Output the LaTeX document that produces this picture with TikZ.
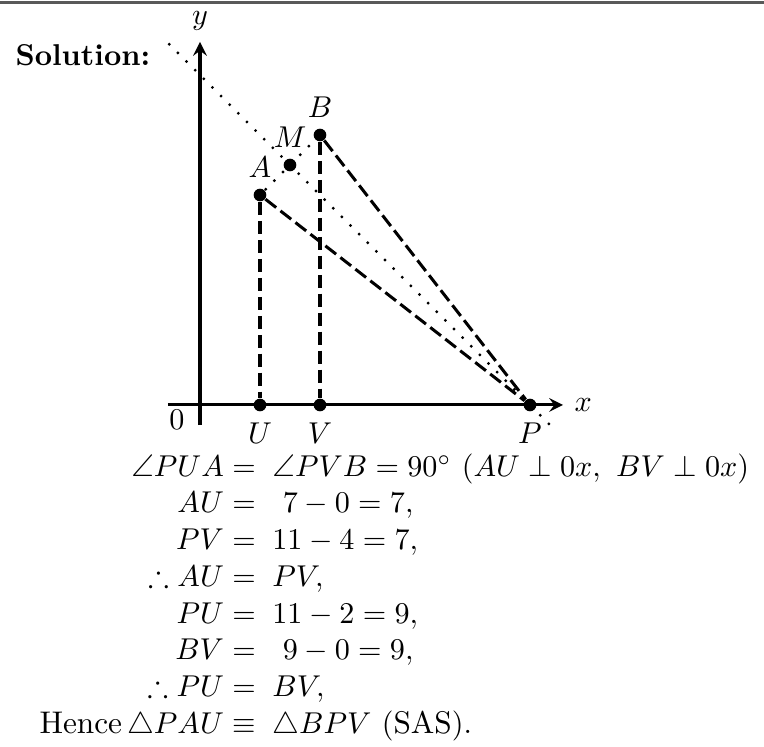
\documentclass[tikz,border=0pt]{standalone}
\usepackage{amsmath,amssymb}
\usepackage{tikz}
\usetikzlibrary{positioning,arrows,calc}

\begin{document}
\begin{tikzpicture}[
    x=0.35cm,y=0.35cm,
    >=stealth,
    pt/.style={circle,fill=black,inner sep=0pt,minimum size=4.2pt},
    axis/.style={->,line width=1pt},
    dashline/.style={line width=1pt,dash pattern=on 4.5pt off 1.8pt},
    dotline/.style={line width=0.75pt,dash pattern=on 0.75pt off 3.3pt},
    rule/.style={line width=1pt,black!65}
]
\useasboundingbox (-6.667,-11.4) rectangle (18.8,13.5);

% Top rule
\coordinate (rl) at (-6.667,13.43);
\coordinate (rr) at (18.8,13.43);
\draw[rule] (rl) -- (rr);

\node[anchor=base west,inner sep=0pt] (sol) at (-6.17,11.33) {\bfseries Solution:};

% Axes
\coordinate (xs) at (-1.07,0);
\coordinate (xe) at (12.1,0);
\coordinate (ys) at (0,-0.67);
\coordinate (ye) at (0,12.1);
\draw[axis] (xs) -- (xe) node[right] (xl) {$x$};
\draw[axis] (ys) -- (ye) node[above] (yl) {$y$};
\node (orig) at (-0.77,-0.5) {$0$};

% Points
\node[pt,label=below:$U$] (U) at (2,0) {};
\node[pt,label=below:$V$] (V) at (4,0) {};
\node[pt,label=below:$P$] (P) at (11,0) {};
\node[pt,label=above:$A$] (A) at (2,7) {};
\node[pt,label=above:$B$] (B) at (4,9) {};
\node[pt,label=above:$M$] (M) at (3,8) {};

% Dotted lines
\coordinate (d1) at (-1.05,12.05);
\coordinate (d2) at (11.8,-0.8);
\draw[dotline] (d1) -- (d2);
\draw[dotline] (A) -- (B);

% Dashed lines
\draw[dashline] (A) -- (U);
\draw[dashline] (B) -- (V);
\draw[dashline] (A) -- (P);
\draw[dashline] (B) -- (P);

% Working
\node[anchor=base west,inner sep=0pt] (work) at (-5.37,-2.37) {\fontsize{10.4pt}{12.2pt}\selectfont$\begin{array}[t]{@{}r@{\;}c@{\;\;}l@{}}
\angle PUA & = & \angle PVB = 90^\circ\ (AU \perp 0x,\ BV \perp 0x)\\
AU & = & \ 7-0=7,\\
PV & = & 11-4=7,\\
\therefore AU & = & PV,\\
PU & = & 11-2=9,\\
BV & = & \ 9-0=9,\\
\therefore PU & = & BV,\\
\text{Hence}\,\triangle PAU & \equiv & \triangle BPV\ (\text{SAS}).
\end{array}$};
\end{tikzpicture}
\end{document}
